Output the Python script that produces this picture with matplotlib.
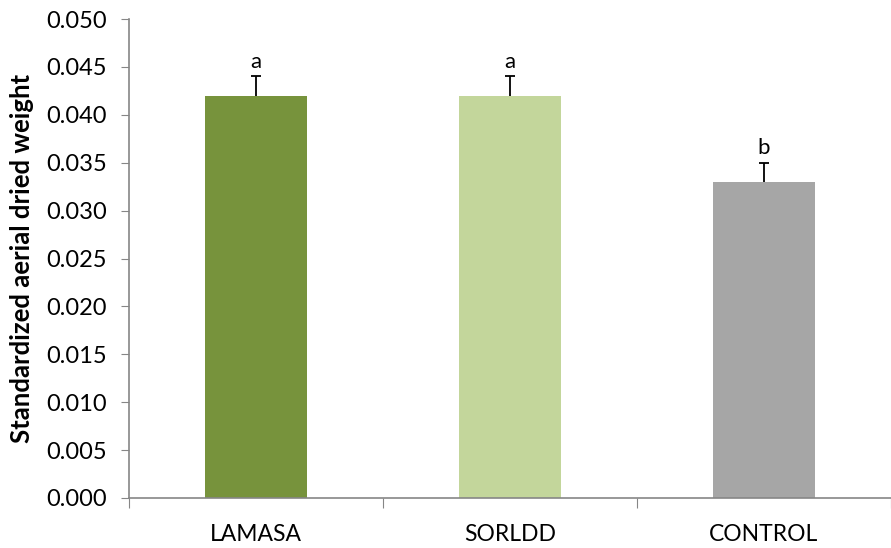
import matplotlib
matplotlib.use("Agg")
import matplotlib.pyplot as plt

categories = ["LAMASA", "SORLDD", "CONTROL"]
values = [0.042, 0.042, 0.033]
errors = [0.002, 0.002, 0.002]
letters = ["a", "a", "b"]
colors = ["#77933C", "#C3D69B", "#A6A6A6"]
yticks = [0.000, 0.005, 0.010, 0.015, 0.020, 0.025, 0.030, 0.035, 0.040, 0.045, 0.050]

plt.rcParams['font.family'] = ['Lato', 'DejaVu Sans']

fig = plt.figure(figsize=(8.91, 5.48), dpi=100)
ax = fig.add_axes([129/891, 1-498/548, 1-129/891, (498-19)/548])

x = list(range(len(categories)))
bw = 0.4
ax.bar(x, values, width=bw, color=colors, zorder=2)
tops = [v + e for v, e in zip(values, errors)]
ax.vlines(x, values, tops, color='black', linewidth=1.3, zorder=3)
ax.hlines(tops, [xi - 0.02 for xi in x], [xi + 0.02 for xi in x], color='black', linewidth=1.3, zorder=3)
for xi, t, l in zip(x, tops, letters):
    ax.text(xi, t + 0.0005, l, ha='center', va='bottom', fontsize=16)

ax.set_xlim(-0.5, 2.467)
ax.set_ylim(0, 0.050)
ax.set_yticks(yticks)
ax.set_yticklabels([f"{t:.3f}" for t in yticks], fontsize=17)
ax.set_xticks([-0.5, 0.5, 1.5, 2.5])
ax.set_xticklabels([])
ax.set_xticks(x, minor=True)
ax.set_xticklabels(categories, minor=True, fontsize=16.5)
ax.tick_params(axis='x', which='minor', length=0, pad=19)
ax.tick_params(axis='x', which='major', length=7, color='#868686', direction='out')
ax.tick_params(axis='y', length=6, color='#868686', direction='out', pad=10)

for s in ['top', 'right']:
    ax.spines[s].set_visible(False)
for s in ['left', 'bottom']:
    ax.spines[s].set_color('#868686')
    ax.spines[s].set_linewidth(1.2)

ax.set_ylabel("Standardized aerial dried weight", fontsize=18.5, fontweight='bold', labelpad=9)

fig.savefig("out.png", dpi=100)
